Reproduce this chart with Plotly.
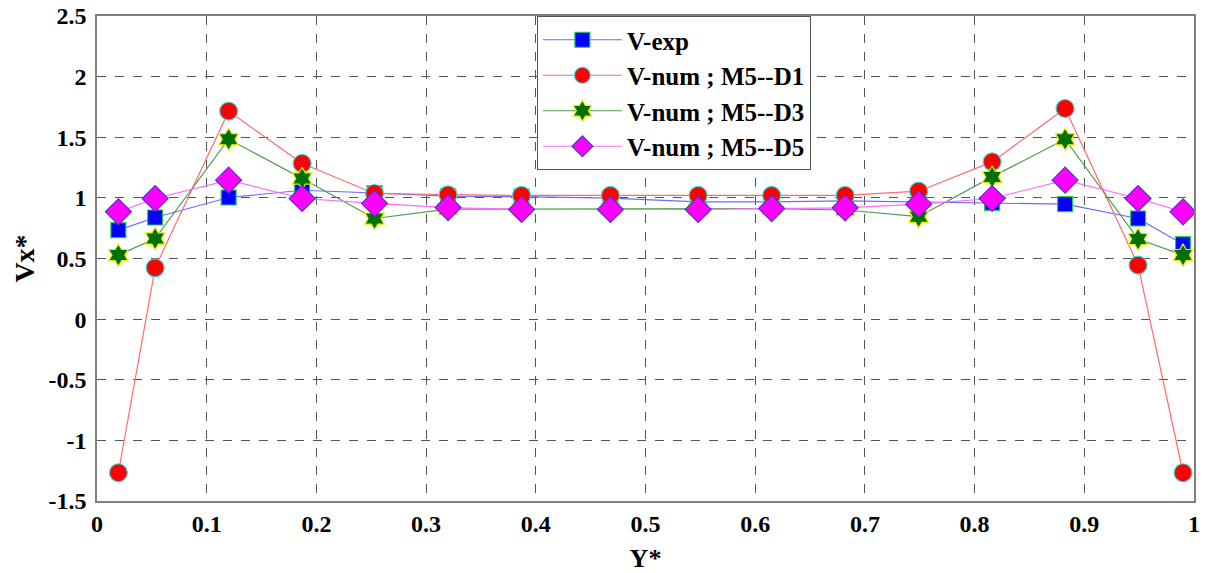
import plotly.graph_objects as go

y_star = [0.0195, 0.053, 0.12, 0.187, 0.253, 0.32, 0.387, 0.468, 0.548,
          0.615, 0.682, 0.749, 0.816, 0.8825, 0.949, 0.99]

v_exp = [0.734, 0.838, 1.003, 1.063, 1.04, 1.014, 1.01, 0.998, 0.967,
         0.967, 0.975, 0.967, 0.959, 0.948, 0.83, 0.618]
v_d1 = [-1.267, 0.423, 1.715, 1.284, 1.036, 1.025, 1.02, 1.02, 1.02,
        1.02, 1.02, 1.055, 1.297, 1.737, 0.445, -1.267]
v_d3 = [0.528, 0.665, 1.484, 1.16, 0.83, 0.907, 0.907, 0.907, 0.907,
        0.912, 0.9, 0.845, 1.173, 1.484, 0.66, 0.528]
v_d5 = [0.885, 0.995, 1.146, 0.995, 0.954, 0.92, 0.904, 0.904, 0.904,
        0.912, 0.918, 0.948, 0.995, 1.146, 0.995, 0.885]

x_ticks = [0, 0.1, 0.2, 0.3, 0.4, 0.5, 0.6, 0.7, 0.8, 0.9, 1]
x_tick_text = ["0", "0.1", "0.2", "0.3", "0.4", "0.5", "0.6", "0.7", "0.8", "0.9", "1"]
y_ticks = [-1.5, -1, -0.5, 0, 0.5, 1, 1.5, 2, 2.5]
y_tick_text = ["-1.5", "-1", "-0.5", "0", "0.5", "1", "1.5", "2", "2.5"]

names = ["V-exp", "V-num ; M5--D1", "V-num ; M5--D3", "V-num ; M5--D5"]
series = [v_exp, v_d1, v_d3, v_d5]
line_colors = ["#6b6bff", "#ff6b6b", "#4f9a4f", "#ff6bff"]
marker_fill = ["#0000ff", "#ff0000", "#007000", "#ff00ff"]
marker_edge = ["#22cc55", "#33dddd", "#eeee00", "#5533cc"]
symbols = ["square", "circle", "hexagram", "diamond"]
sizes = [15, 18, 17, 20]

fig = go.Figure()
for nm, ys, lc, mf, me, sy, sz in zip(names, series, line_colors, marker_fill,
                                      marker_edge, symbols, sizes):
    fig.add_trace(go.Scatter(
        x=y_star, y=ys, name=nm, mode="lines+markers",
        line=dict(color=lc, width=1.2),
        marker=dict(symbol=sy, size=sz, color=mf,
                    line=dict(color=me, width=1.2)),
    ))

font_fam = "Liberation Serif"
axis_common = dict(
    showgrid=True, gridcolor="#555555", griddash="dash", gridwidth=1,
    showline=True, linecolor="#808080", linewidth=1.5, mirror=True,
    zeroline=False, ticks="", automargin=False, ticklabeloverflow="allow",
    tickfont=dict(family=font_fam, size=24, color="black"),
)

fig.update_layout(
    width=1207, height=573,
    margin=dict(l=97, r=13, t=16, b=72),
    font=dict(family=font_fam, color="black"),
    paper_bgcolor="white", plot_bgcolor="white",
    xaxis=dict(range=[0, 1], tickmode="array", tickvals=x_ticks,
               ticktext=["<b>%s</b>" % t for t in x_tick_text],
               title=dict(text="<b>Y*</b>", standoff=15,
                          font=dict(family=font_fam, size=26, color="black")),
               **axis_common),
    yaxis=dict(range=[-1.5, 2.5], tickmode="array", tickvals=y_ticks,
               ticktext=["<b>%s</b>" % t for t in y_tick_text],
               ticklabelstandoff=4,
               title=dict(text="<b>Vx*</b>", standoff=6,
                          font=dict(family=font_fam, size=28, color="black")),
               **axis_common),
    legend=dict(x=0.401, y=1.0, xanchor="left", yanchor="top",
                bgcolor="white", bordercolor="#555555", borderwidth=1,
                font=dict(family=font_fam, size=25, color="black", weight="bold"),
                itemwidth=79, tracegroupgap=0),
    showlegend=True,
)

fig.write_html("out.html",
               config={"displayModeBar": False},
               post_script="document.body.style.margin='0';")
